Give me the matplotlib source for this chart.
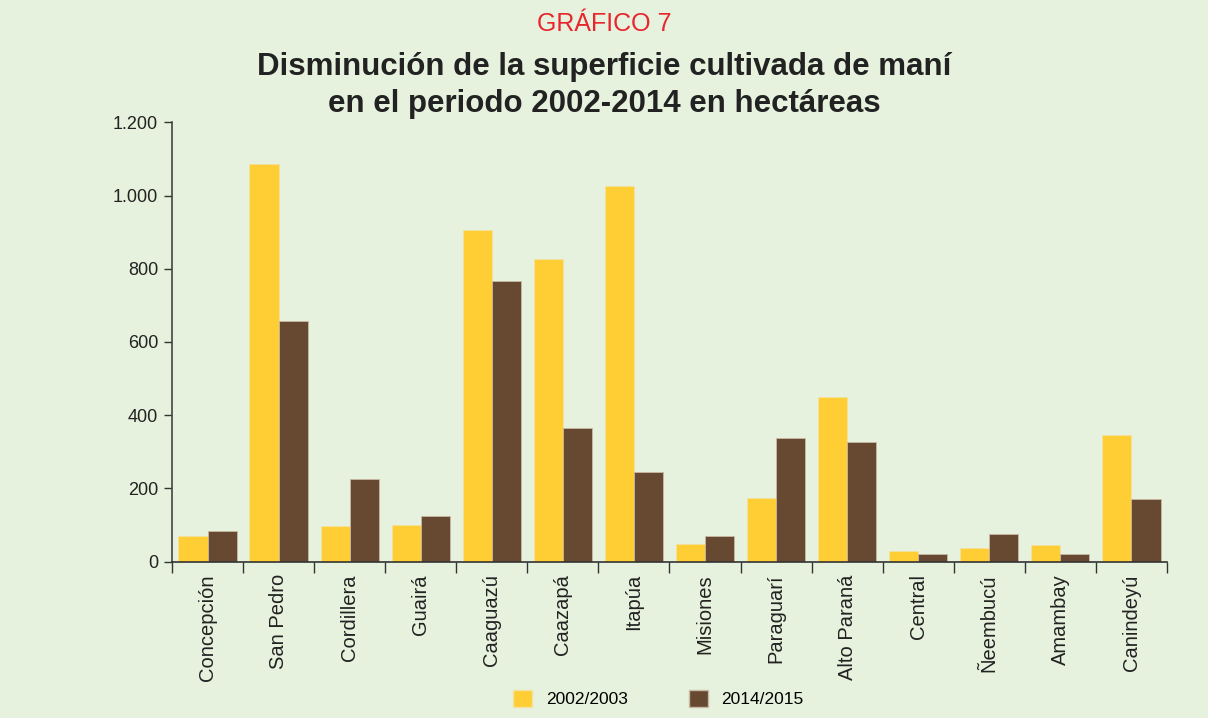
import matplotlib.pyplot as plt
import numpy as np
from matplotlib.patches import Patch

plt.rcParams['font.family'] = ['Liberation Sans', 'DejaVu Sans']

# departamentos y superficie (ha)
departamentos = ['Concepción', 'San Pedro', 'Cordillera', 'Guairá', 'Caaguazú', 'Caazapá',
                 'Itapúa', 'Misiones', 'Paraguarí', 'Alto Paraná', 'Central', 'Ñeembucú',
                 'Amambay', 'Canindeyú']
sup_2002 = [70, 1086, 97, 101, 906, 826, 1026, 48, 174, 450, 29, 37, 46, 346]
sup_2014 = [85, 657, 225, 126, 766, 365, 246, 70, 338, 326, 20, 76, 22, 170]
yticks = [0, 200, 400, 600, 800, 1000, 1200]
ytick_labels = ['0', '200', '400', '600', '800', '1.000', '1.200']

bg = '#e6f2dd'
amarillo = '#ffcd34'
marron = '#664930'

fig = plt.figure(figsize=(12.08, 7.18), dpi=100, facecolor=bg)
ax = fig.add_axes([0.1424, 0.2177, 0.8236, 0.612])
ax.set_facecolor(bg)

x = np.arange(len(departamentos))
w = 0.41
ax.bar(x - w / 2, sup_2002, w, color=amarillo, edgecolor='#f3e2a0', linewidth=0.6)
ax.bar(x + w / 2, sup_2014, w, color=marron, edgecolor='#c8b9a4', linewidth=0.6)

ax.set_xlim(-0.5, len(departamentos) - 0.5)
ax.set_ylim(0, 1200)
ax.set_yticks(yticks)
ax.set_yticklabels(ytick_labels, fontsize=13, color='#222222')

# ticks entre categorias
ax.set_xticks(np.arange(len(departamentos) + 1) - 0.5)
ax.set_xticklabels([])
ax.set_xticks(x, minor=True)
ax.set_xticklabels(departamentos, minor=True, rotation=90, fontsize=14.5, color='#222222')
ax.tick_params(axis='x', which='minor', length=0, pad=9)
ax.tick_params(axis='x', which='major', length=8, width=1, color='#333333', direction='out')
ax.tick_params(axis='y', length=6, width=1, color='#333333', direction='out', pad=4)

for s in ['top', 'right']:
    ax.spines[s].set_visible(False)
ax.spines['left'].set_color('#444444')
ax.spines['bottom'].set_color('#333333')
ax.spines['left'].set_linewidth(1.2)
ax.spines['bottom'].set_linewidth(1.2)

fig.text(0.5, 0.967, 'GRÁFICO 7', color='#e8262e', fontsize=18, ha='center', va='center')
fig.text(0.5, 0.881, 'Disminución de la superficie cultivada de maní\nen el periodo 2002-2014 en hectáreas',
         fontsize=22.5, fontweight='bold', ha='center', va='center', color='#222222',
         linespacing=1.3)

handles = [Patch(facecolor=amarillo, edgecolor='#f3e2a0', label='2002/2003'),
           Patch(facecolor=marron, edgecolor='#c8b9a4', label='2014/2015')]
fig.legend(handles=handles, loc='center', bbox_to_anchor=(0.545, 0.027), ncol=2,
           frameon=False, fontsize=12.5, handlelength=1.1, handleheight=1.1,
           columnspacing=3.5, handletextpad=0.8)

plt.savefig('out.png', dpi=100, facecolor=bg)
